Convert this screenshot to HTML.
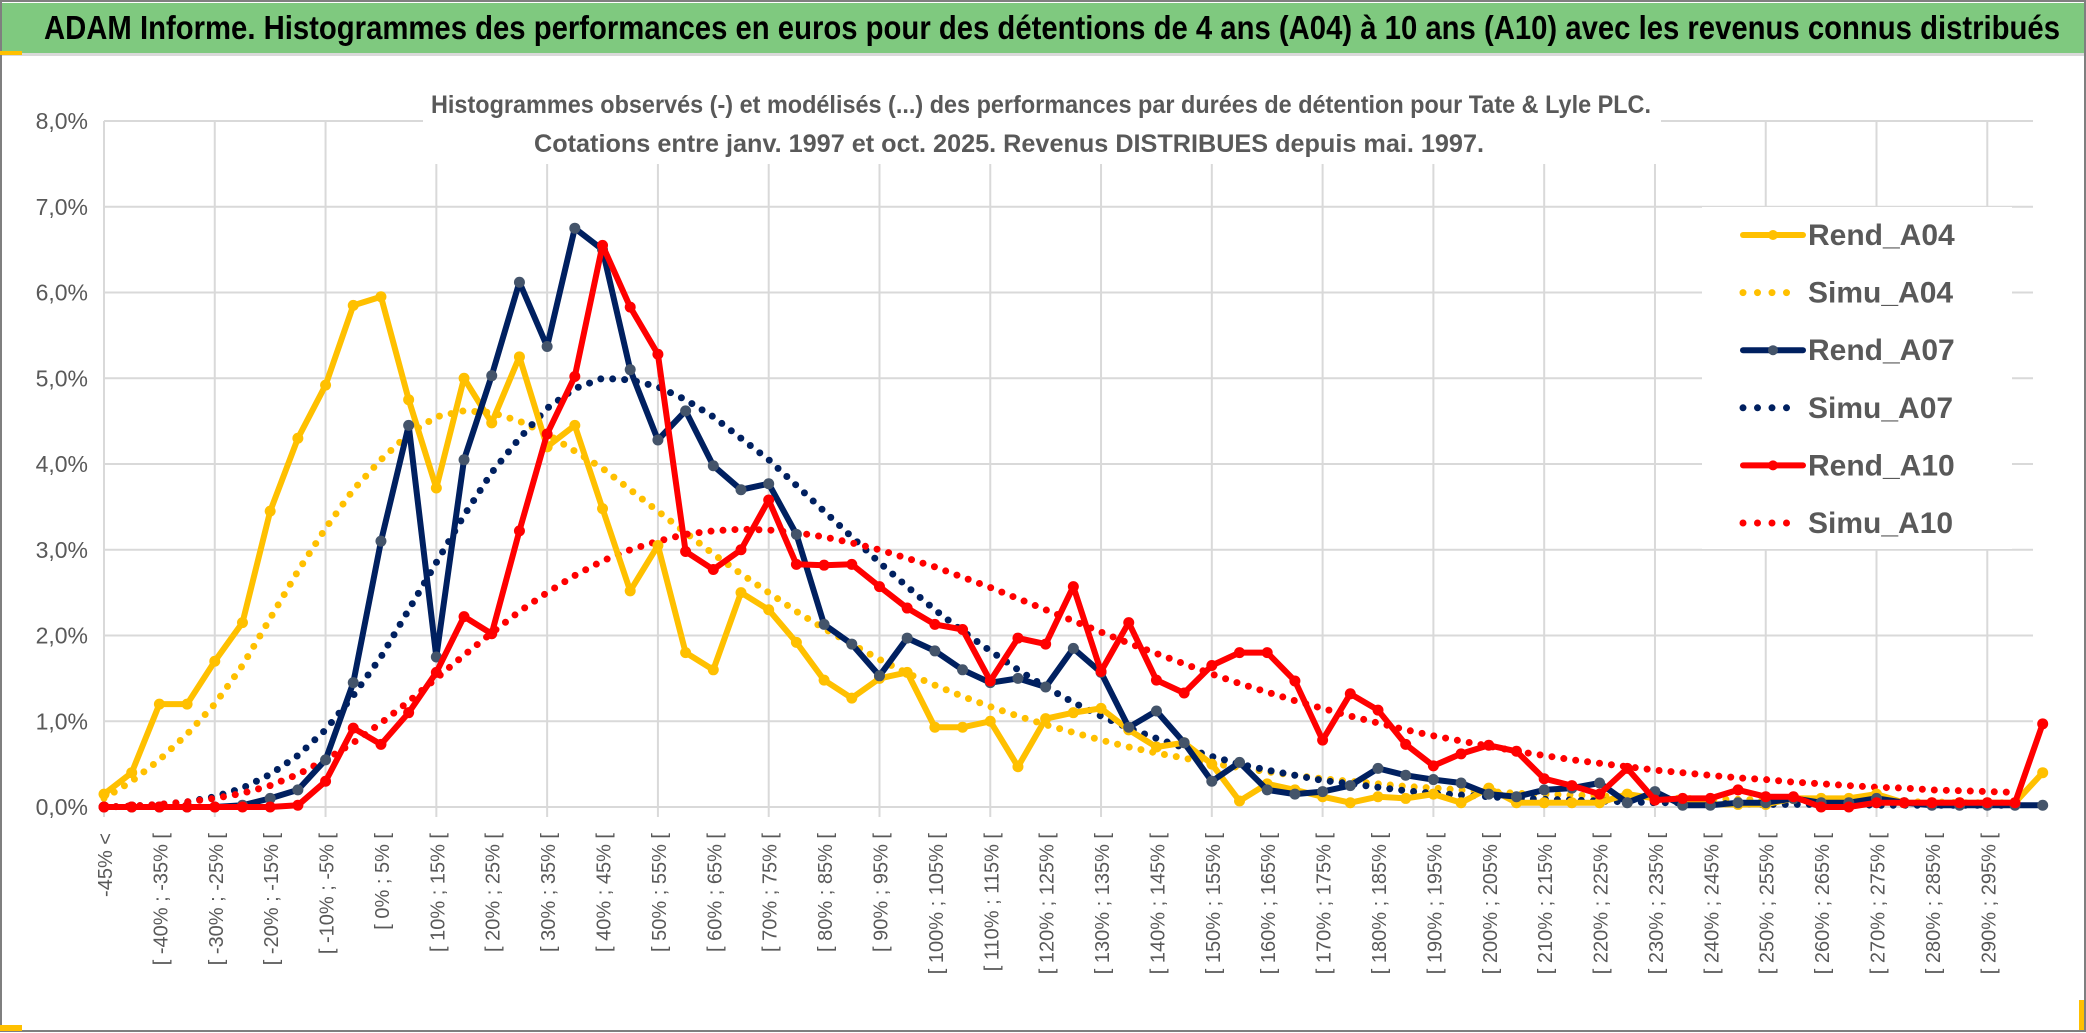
<!DOCTYPE html>
<html><head><meta charset="utf-8"><style>
html,body{margin:0;padding:0;background:#fff;}
svg{display:block;}
text{font-family:"Liberation Sans Narrow","Liberation Sans",sans-serif;}
</style></head><body>
<svg id="chart" width="2086" height="1033" viewBox="0 0 2086 1033" xmlns="http://www.w3.org/2000/svg">
<rect x="0" y="0" width="2086" height="1033" fill="#fff"/>
<rect x="1" y="1" width="2084" height="1030" fill="none" stroke="#7f7f7f" stroke-width="2"/>
<rect x="2" y="3" width="2082" height="50" fill="#7fc97f"/>
<rect x="2" y="53" width="2082" height="3" fill="#d9d9d9"/>
<rect x="0" y="51" width="22" height="4" fill="#ffc000"/>
<text x="44" y="39" font-size="33" font-weight="bold" fill="#000" textLength="2016" lengthAdjust="spacingAndGlyphs">ADAM Informe. Histogrammes des performances en euros pour des détentions de 4 ans (A04) à 10 ans (A10) avec les revenus connus distribués</text>
<g id="grid"></g>
<rect x="423" y="88" width="1238" height="76" fill="#fff"/>
<text x="1041" y="113" font-size="25" font-weight="bold" fill="#595959" text-anchor="middle" textLength="1220" lengthAdjust="spacingAndGlyphs">Histogrammes observés (-) et modélisés (...) des performances par durées de détention pour Tate &amp; Lyle PLC.</text>
<text x="1009" y="152" font-size="25" font-weight="bold" fill="#595959" text-anchor="middle" textLength="950" lengthAdjust="spacingAndGlyphs">Cotations entre janv. 1997 et oct. 2025. Revenus DISTRIBUES depuis mai. 1997.</text>
<g id="yticks"></g>
<g id="xticks"></g>
<g id="series"></g>
<g id="legend"></g>
<rect x="0" y="1025" width="22" height="6" fill="#ffc000"/>
<rect x="2079" y="1000" width="5" height="30" fill="#ffc000"/>
</svg>
<script>
const yTicks = [0,1,2,3,4,5,6,7,8];
const yTickLabels = ["0,0%","1,0%","2,0%","3,0%","4,0%","5,0%","6,0%","7,0%","8,0%"];
const categories = (function(){const c=["-45% <"];for(let a=-45;a<300;a+=5){c.push("[ "+a+"% ; "+(a+5)+"% [");}return c;})();
const rendA04 = [0.15,0.4,1.2,1.2,1.7,2.15,3.45,4.3,4.92,5.85,5.95,4.75,3.72,5.0,4.48,5.25,4.2,4.45,3.48,2.52,3.05,1.8,1.6,2.5,2.3,1.92,1.48,1.27,1.5,1.57,0.93,0.93,1.0,0.47,1.03,1.1,1.15,0.9,0.7,0.75,0.5,0.07,0.27,0.2,0.12,0.05,0.12,0.1,0.15,0.05,0.22,0.05,0.05,0.05,0.05,0.15,0.1,0.08,0.03,0.03,0.03,0.1,0.1,0.1,0.15,0.05,0.05,0.05,0.05,0.05,0.4];
const rendA07 = [0,0,0,0,0,0.02,0.1,0.2,0.55,1.45,3.1,4.45,1.75,4.05,5.03,6.12,5.37,6.75,6.5,5.1,4.28,4.62,3.98,3.7,3.77,3.18,2.13,1.9,1.53,1.97,1.82,1.6,1.45,1.5,1.4,1.85,1.57,0.93,1.12,0.75,0.3,0.52,0.2,0.15,0.18,0.25,0.45,0.37,0.32,0.28,0.15,0.12,0.2,0.22,0.28,0.05,0.18,0.02,0.02,0.05,0.05,0.1,0.05,0.05,0.1,0.05,0.02,0.02,0.02,0.02,0.02];
const rendA10 = [0,0,0,0,0,0,0,0.02,0.3,0.92,0.73,1.1,1.57,2.22,2.02,3.22,4.35,5.02,6.55,5.83,5.28,2.98,2.77,3.0,3.58,2.83,2.82,2.83,2.57,2.32,2.13,2.07,1.47,1.97,1.9,2.57,1.58,2.15,1.48,1.33,1.65,1.8,1.8,1.47,0.78,1.32,1.13,0.73,0.48,0.62,0.72,0.65,0.33,0.25,0.15,0.45,0.08,0.1,0.1,0.2,0.12,0.12,0,0,0.05,0.05,0.05,0.05,0.05,0.05,0.97];
const simuA04 = [0.1,0.3,0.55,0.85,1.2,1.65,2.2,2.75,3.25,3.7,4.05,4.35,4.55,4.62,4.6,4.5,4.35,4.15,3.95,3.7,3.45,3.2,2.95,2.72,2.5,2.28,2.08,1.9,1.72,1.56,1.42,1.29,1.17,1.06,0.96,0.87,0.78,0.7,0.63,0.57,0.51,0.46,0.41,0.37,0.33,0.3,0.27,0.24,0.22,0.2,0.18,0.16,0.15,0.14,0.13,0.12,0.11,0.1,0.09,0.09,0.08,0.08,0.07,0.07,0.06,0.06,0.06,0.05,0.05,0.05];
const simuA07 = [0,0.01,0.03,0.06,0.12,0.22,0.38,0.6,0.9,1.3,1.75,2.3,2.85,3.4,3.9,4.3,4.65,4.88,5.0,4.98,4.9,4.75,4.55,4.3,4.05,3.75,3.45,3.15,2.85,2.57,2.3,2.05,1.82,1.6,1.4,1.22,1.06,0.92,0.8,0.69,0.59,0.5,0.43,0.37,0.31,0.27,0.23,0.19,0.16,0.14,0.12,0.1,0.09,0.08,0.07,0.06,0.05,0.05,0.04,0.04,0.03,0.03,0.03,0.03,0.02,0.02,0.02,0.02,0.02,0.02];
const simuA10 = [0,0.01,0.03,0.06,0.1,0.16,0.25,0.38,0.55,0.75,0.98,1.23,1.5,1.77,2.03,2.28,2.5,2.7,2.87,3.0,3.1,3.18,3.22,3.24,3.23,3.2,3.15,3.08,3.0,2.9,2.8,2.68,2.56,2.43,2.3,2.17,2.04,1.91,1.79,1.67,1.55,1.44,1.34,1.24,1.15,1.06,0.98,0.9,0.83,0.77,0.71,0.65,0.6,0.55,0.51,0.47,0.43,0.4,0.37,0.34,0.32,0.29,0.27,0.25,0.23,0.22,0.2,0.19,0.18,0.17];

const NS="http://www.w3.org/2000/svg";
const X0=104, X1=2015, Y0=807, YTOP=121, YMAX=8;
const step=(X1-X0)/(categories.length-1);
function xs(i){return X0+i*step;}
function ys(v){return Y0-(v/YMAX)*(Y0-YTOP);}
function mk(tag,attrs,parent){const e=document.createElementNS(NS,tag);for(const k in attrs)e.setAttribute(k,attrs[k]);parent.appendChild(e);return e;}

const grid=document.getElementById('grid');
for(const t of yTicks){
  const l=mk('line',{x1:X0,x2:2033,y1:ys(t),y2:ys(t),stroke:'#d9d9d9','stroke-width':2},grid);
  
  
}
for(let i=0;i<categories.length;i+=4){
  const l=mk('line',{x1:xs(i),x2:xs(i),y1:YTOP,y2:Y0+10,stroke:'#d9d9d9','stroke-width':2},grid);
  
  
}
const yt=document.getElementById('yticks');
yTicks.forEach((t,k)=>{
  const e=mk('text',{x:88,y:ys(t)+8,'font-size':23,fill:'#595959','text-anchor':'end'},yt);
  e.textContent=yTickLabels[k];
  
  
});
const xt=document.getElementById('xticks');
for(let i=0;i<categories.length;i+=2){
  const x=xs(i)+8, y=833;
  const e=mk('text',{x:x,y:y,'font-size':20,fill:'#595959','text-anchor':'end',transform:'rotate(-90 '+x+' '+y+')','font-family':'"Liberation Sans",sans-serif'},xt);
  e.textContent=categories[i];
  
  
}
const sg=document.getElementById('series');
function pts(arr){return arr.map((v,i)=>xs(i).toFixed(1)+','+ys(v).toFixed(1)).join(' ');}
function dotted(arr,color,name){
  const p=mk('polyline',{points:pts(arr),fill:'none',stroke:color,'stroke-width':7,'stroke-linecap':'round','stroke-dasharray':'0 12'},sg);
  
  
}
function solid(arr,color,mcolor,name){
  const g=mk('g',{},sg);
  
  
  mk('polyline',{points:pts(arr),fill:'none',stroke:color,'stroke-width':6,'stroke-linejoin':'round'},g);
  arr.forEach((v,i)=>{
    const c=mk('circle',{cx:xs(i),cy:ys(v),r:5.5,fill:mcolor},g);
    
    
  });
}
dotted(simuA04,'#ffc000','simu-a04-line');
dotted(simuA07,'#002060','simu-a07-line');
dotted(simuA10,'#ff0000','simu-a10-line');
solid(rendA04,'#ffc000','#ffc000','rend-a04-line');
solid(rendA07,'#002060','#44546a','rend-a07-line');
solid(rendA10,'#ff0000','#ff0000','rend-a10-line');

const lg=document.getElementById('legend');
mk('rect',{x:1702,y:207,width:310,height:342,fill:'#fff'},lg);
const legendNames=["Rend_A04","Simu_A04","Rend_A07","Simu_A07","Rend_A10","Simu_A10"];
const legendColors=['#ffc000','#ffc000','#002060','#002060','#ff0000','#ff0000'];
const markerColors=['#ffc000','','#44546a','','#ff0000',''];
legendNames.forEach((n,k)=>{
  const y=235+k*57.6;
  const g=mk('g',{},lg);
  
  
  if(k%2===0){
    mk('line',{x1:1743,x2:1803,y1:y,y2:y,stroke:legendColors[k],'stroke-width':6,'stroke-linecap':'round'},g);
    mk('circle',{cx:1773,cy:y,r:5,fill:markerColors[k]},g);
  } else {
    mk('line',{x1:1743,x2:1800,y1:y,y2:y,stroke:legendColors[k],'stroke-width':7,'stroke-linecap':'round','stroke-dasharray':'0 14.5'},g);
  }
  const t=mk('text',{x:1808,y:y+10,'font-size':30,'font-weight':'bold',fill:'#595959'},g);
  t.textContent=n;
});
</script>
</body></html>
